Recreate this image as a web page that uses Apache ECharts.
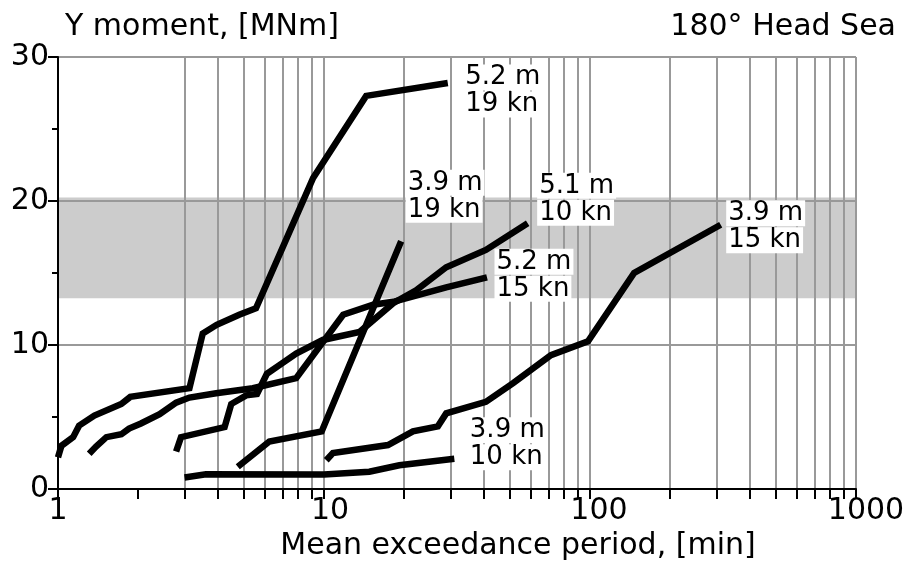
<!DOCTYPE html>
<html><head><meta charset="utf-8">
<script src="https://cdn.jsdelivr.net/npm/echarts@6/dist/echarts.min.js"></script>
<style>html,body{margin:0;padding:0;background:#fff}#c{width:913px;height:564px}</style>
</head><body><div id="c"></div>
<script>
// ---- data ----
const curveA_x = [1.0, 1.03, 1.14, 1.2, 1.37, 1.73, 1.87, 3.12, 3.5, 3.95, 4.8, 5.55, 9.1, 14.4, 29.2];
const curveA_y = [2.2, 3.0, 3.6, 4.4, 5.1, 5.9, 6.4, 7.0, 10.8, 11.4, 12.1, 12.55, 21.6, 27.3, 28.2];
const curveB_x = [1.31, 1.39, 1.52, 1.73, 1.85, 2.05, 2.41, 2.78, 3.12, 3.93, 5.4, 7.86, 11.8, 15.3, 18.2, 28.8, 41];
const curveB_y = [2.45, 2.95, 3.6, 3.8, 4.2, 4.55, 5.2, 6.0, 6.35, 6.65, 7.0, 7.7, 12.1, 12.8, 13.0, 14.0, 14.7];
const curveC_x = [2.78, 2.9, 4.23, 4.48, 5.1, 5.6, 6.1, 6.8, 7.86, 9.9, 13.6, 18.2, 22.2, 28.8, 40.6, 58.3];
const curveC_y = [2.6, 3.6, 4.3, 5.9, 6.5, 6.6, 8.0, 8.6, 9.4, 10.35, 10.9, 12.9, 13.8, 15.4, 16.6, 18.45];
const curveD_x = [4.74, 6.23, 9.8, 19.5];
const curveD_y = [1.55, 3.3, 4.0, 17.2];
const curveE_x = [10.2, 10.8, 17.4, 21.6, 26.8, 28.8, 40.6, 51.4, 71.3, 98.3, 146.5, 310];
const curveE_y = [2.0, 2.5, 3.05, 4.0, 4.35, 5.25, 6.05, 7.35, 9.3, 10.25, 15.0, 18.35];
const curveF_x = [2.99, 3.6, 10, 14.8, 19.2, 30.9];
const curveF_y = [0.8, 1.02, 1.0, 1.2, 1.65, 2.1];

const waveHeights = ['5.2 m', '5.2 m', '5.1 m', '3.9 m', '3.9 m', '3.9 m'];
const speeds      = ['19 kn', '15 kn', '10 kn', '19 kn', '15 kn', '10 kn'];

const xTickValues = [1,2,3,4,5,6,7,8,9,10,20,30,40,50,60,70,80,90,100,200,300,400,500,600,700,800,900,1000];
const xGridValues = [3,4,5,6,7,8,9,10,20,30,40,50,60,70,80,90,100,200,300,400,500,600,700,800,900,1000];
const yGridValues = [10, 20, 30];
const bandRange = [13.25, 20.25];

const yTitle = 'Y moment, [MNm]';
const xTitle = 'Mean exceedance period, [min]';
const headTitle = '180° Head Sea';

// ---- styling / layout ----
const FONT = 'DejaVu Sans';
const labelOffsets = [[15, 8], [7, -2], [9, -24], [4, -45], [5, 2], [13, -15]];
// extra left padding per x label (by number of digits) to mimic the reference placement
const xLabelPad = {1: 0, 2: 12, 3: 18, 4: 20};

const curvesX = [curveA_x, curveB_x, curveC_x, curveD_x, curveE_x, curveF_x];
const curvesY = [curveA_y, curveB_y, curveC_y, curveD_y, curveE_y, curveF_y];

const series = [];
series.push({
  type: 'line', data: [], silent: true,
  markArea: {
    silent: true, z: 1,
    itemStyle: {color: '#cccccc'},
    data: [[{yAxis: bandRange[0]}, {yAxis: bandRange[1]}]]
  },
  markLine: {
    silent: true, z: 2, symbol: ['none', 'none'],
    label: {show: false},
    lineStyle: {color: '#999999', width: 2, type: 'solid'},
    emphasis: {disabled: true},
    data: xGridValues.map(v => ({xAxis: v})).concat(yGridValues.map(v => ({yAxis: v})))
  }
});
curvesX.forEach((xs, i) => {
  const ys = curvesY[i];
  const n = xs.length - 1;
  series.push({
    type: 'line', z: 3, silent: true, symbol: 'none',
    lineStyle: {color: '#000', width: 6.5, cap: 'butt', join: 'miter'},
    data: xs.map((x, k) => [x, ys[k]]),
    markPoint: {
      silent: true, z: 5, symbol: 'circle', symbolSize: 1,
      itemStyle: {color: 'rgba(0,0,0,0)'},
      label: {
        show: true, position: 'right', distance: 0, offset: labelOffsets[i],
        formatter: '{a|' + waveHeights[i] + '}\n{a|' + speeds[i] + '}',
        rich: {a: {fontFamily: FONT, fontSize: 26, lineHeight: 27, color: '#000',
                   backgroundColor: '#fff', padding: [0, 2, 0, 2]}}
      },
      data: [{coord: [xs[n], ys[n]]}]
    }
  });
});

const xRich = {};
Object.keys(xLabelPad).forEach(k => {
  xRich['p' + k] = {fontFamily: FONT, fontSize: 30, color: '#000', padding: [0, 0, 0, xLabelPad[k]]};
});

const chart = echarts.init(document.getElementById('c'), null, {renderer: 'canvas'});
chart.setOption({
  animation: false,
  backgroundColor: '#fff',
  grid: {left: 58, right: 57, top: 57, bottom: 75, containLabel: false, outerBoundsMode: 'none'},
  xAxis: {
    type: 'log', logBase: 10, min: 1, max: 1000, z: 4,
    axisLine: {show: true, onZero: false, lineStyle: {color: '#000', width: 2}},
    axisTick: {show: true, length: 10, customValues: xTickValues, lineStyle: {color: '#000', width: 2}},
    axisLabel: {fontFamily: FONT, fontSize: 30, color: '#000', margin: 7, rich: xRich,
                formatter: v => { const s = String(Math.round(v)); return '{p' + s.length + '|' + s + '}'; }},
    splitLine: {show: false}, minorTick: {show: false}, minorSplitLine: {show: false}
  },
  yAxis: {
    type: 'value', min: 0, max: 30, interval: 10, z: 4,
    axisLine: {show: true, lineStyle: {color: '#000', width: 2}},
    axisTick: {show: true, length: 10, lineStyle: {color: '#000', width: 2}},
    minorTick: {show: true, splitNumber: 2, length: 6, lineStyle: {color: '#000', width: 2}},
    axisLabel: {fontFamily: FONT, fontSize: 30, color: '#000', margin: 9},
    splitLine: {show: false}
  },
  graphic: [
    {type: 'text', x: 65, y: 27, style: {text: yTitle, font: '30px "DejaVu Sans"', fill: '#000', align: 'left', verticalAlign: 'middle'}},
    {type: 'text', x: 896, y: 27, style: {text: headTitle, font: '30px "DejaVu Sans"', fill: '#000', align: 'right', verticalAlign: 'middle'}},
    {type: 'text', x: 518, y: 546, style: {text: xTitle, font: '30px "DejaVu Sans"', fill: '#000', align: 'center', verticalAlign: 'middle'}}
  ],
  series: series
});
</script>
</body></html>
